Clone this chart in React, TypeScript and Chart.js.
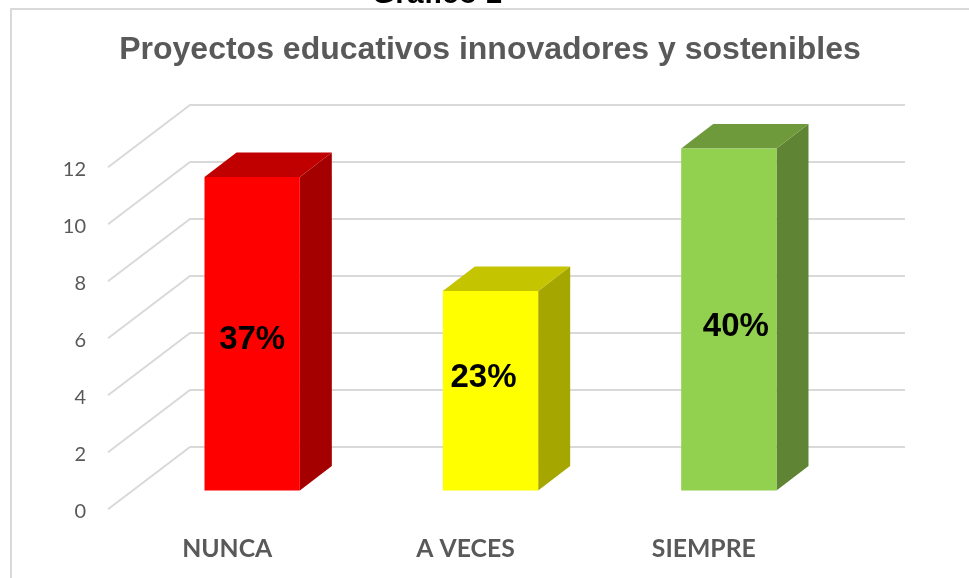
import React, { useEffect, useRef } from "react";
import { Chart, registerables } from "chart.js";

Chart.register(...registerables);

const categories = ["NUNCA", "A VECES", "SIEMPRE"];
const values = [11, 7, 12];
const percentLabels = ["37%", "23%", "40%"];
const frontColors = ["#ff0000", "#ffff00", "#92d050"];
const topColors = ["#c00000", "#c4c400", "#6f9a3c"];
const sideColors = ["#a50000", "#a6a600", "#5f8433"];
const labelNudges: [number, number][] = [[0, 6], [-7, -13], [7, 7]];

const TITLE = "Proyectos educativos innovadores y sostenibles";
const CAPTION = "Gráfico 1";
const GRID = "#d9d9d9";
const TEXT = "#595959";
const WALL = { dx: 82, dy: -62.3 };
const SHIFT = { dx: 25, dy: -18.8 };
const DEPTH = { dx: 32, dy: -24.5 };

const threeD = {
  id: "threeD",
  beforeDraw(chart: any) {
    const { ctx, width, height } = chart;
    ctx.save();
    ctx.strokeStyle = GRID;
    ctx.lineWidth = 2;
    ctx.beginPath();
    ctx.moveTo(11, height + 2);
    ctx.lineTo(11, 9);
    ctx.lineTo(width + 2, 9);
    ctx.stroke();
    ctx.font = "bold 30px 'Liberation Sans'";
    ctx.fillStyle = "#000000";
    ctx.textAlign = "center";
    ctx.textBaseline = "alphabetic";
    ctx.fillText(CAPTION, 437, 3);
    ctx.restore();
  },
  beforeDatasetsDraw(chart: any) {
    const { ctx, chartArea } = chart;
    const y = chart.scales.y;
    ctx.save();
    ctx.strokeStyle = GRID;
    ctx.lineWidth = 2;
    y.ticks.forEach((_: any, i: number) => {
      const py = y.getPixelForTick(i);
      ctx.beginPath();
      ctx.moveTo(chartArea.left, py);
      ctx.lineTo(chartArea.left + WALL.dx, py + WALL.dy);
      ctx.lineTo(chartArea.right + WALL.dx, py + WALL.dy);
      ctx.stroke();
    });
    const bars = chart.getDatasetMeta(0).data;
    bars.forEach((bar: any, i: number) => {
      const { x, y: top, base, width } = bar.getProps(["x", "y", "base", "width"], true);
      const l = x - width / 2 + SHIFT.dx;
      const r = x + width / 2 + SHIFT.dx;
      const t = top + SHIFT.dy;
      const b = base + SHIFT.dy;
      ctx.fillStyle = sideColors[i];
      ctx.beginPath();
      ctx.moveTo(r, t);
      ctx.lineTo(r + DEPTH.dx, t + DEPTH.dy);
      ctx.lineTo(r + DEPTH.dx, b + DEPTH.dy);
      ctx.lineTo(r, b);
      ctx.closePath();
      ctx.fill();
      ctx.fillStyle = topColors[i];
      ctx.beginPath();
      ctx.moveTo(l, t);
      ctx.lineTo(l + DEPTH.dx, t + DEPTH.dy);
      ctx.lineTo(r + DEPTH.dx, t + DEPTH.dy);
      ctx.lineTo(r, t);
      ctx.closePath();
      ctx.fill();
    });
    ctx.restore();
    ctx.save();
    ctx.translate(SHIFT.dx, SHIFT.dy);
  },
  afterDatasetsDraw(chart: any) {
    const { ctx } = chart;
    ctx.restore();
    ctx.save();
    ctx.font = "bold 33px 'Liberation Sans'";
    ctx.fillStyle = "#000000";
    ctx.textAlign = "center";
    ctx.textBaseline = "middle";
    chart.getDatasetMeta(0).data.forEach((bar: any, i: number) => {
      const { x, y: top, base } = bar.getProps(["x", "y", "base"], true);
      ctx.fillText(
        percentLabels[i],
        x + SHIFT.dx + labelNudges[i][0],
        (top + base) / 2 + SHIFT.dy + labelNudges[i][1]
      );
    });
    ctx.restore();
  },
};

export default function App() {
  const ref = useRef<HTMLCanvasElement>(null);
  useEffect(() => {
    const chart = new Chart(ref.current as HTMLCanvasElement, {
      type: "bar",
      data: {
        labels: categories,
        datasets: [
          {
            data: values,
            backgroundColor: frontColors,
            borderWidth: 0,
            barPercentage: 0.4,
            categoryPercentage: 1,
            clip: false,
          } as any,
        ],
      },
      options: {
        responsive: false,
        animation: false,
        events: [],
        layout: { padding: { left: 11, right: 0, top: 0, bottom: 0 } },
        plugins: {
          legend: { display: false },
          tooltip: { enabled: false },
          title: {
            display: true,
            text: TITLE,
            color: TEXT,
            font: { family: "'Liberation Sans'", size: 32, weight: "bold", lineHeight: 1.2 },
            padding: { top: 30.5, bottom: 98.4 },
          },
        },
        scales: {
          x: {
            grid: { display: false },
            border: { display: false },
            ticks: {
              color: TEXT,
              padding: 17,
              maxRotation: 0,
              font: { family: "Lato", size: 24.75, weight: "bold" },
            },
            afterFit(scale: any) {
              scale.height = 68.7;
            },
          },
          y: {
            min: 0,
            max: 12,
            grid: { display: false, drawTicks: false },
            border: { display: false },
            ticks: {
              stepSize: 2,
              color: TEXT,
              padding: 22,
              labelOffset: 2.5,
              font: { family: "Lato", size: 20 },
            },
            afterFit(scale: any) {
              scale.width = 97;
            },
          },
          margin: {
            axis: "y",
            position: "right",
            display: true,
            min: 0,
            max: 12,
            grid: { display: false, drawTicks: false },
            border: { display: false },
            ticks: { display: false },
            afterFit(scale: any) {
              scale.width = 146;
            },
          },
        } as any,
      },
      plugins: [threeD],
    });
    return () => chart.destroy();
  }, []);
  return (
    <div style={{ position: "absolute", left: 0, top: 0, width: 969, height: 578, overflow: "hidden", background: "#fff" }}>
      <canvas ref={ref} width={969} height={578} style={{ display: "block" }} />
    </div>
  );
}
